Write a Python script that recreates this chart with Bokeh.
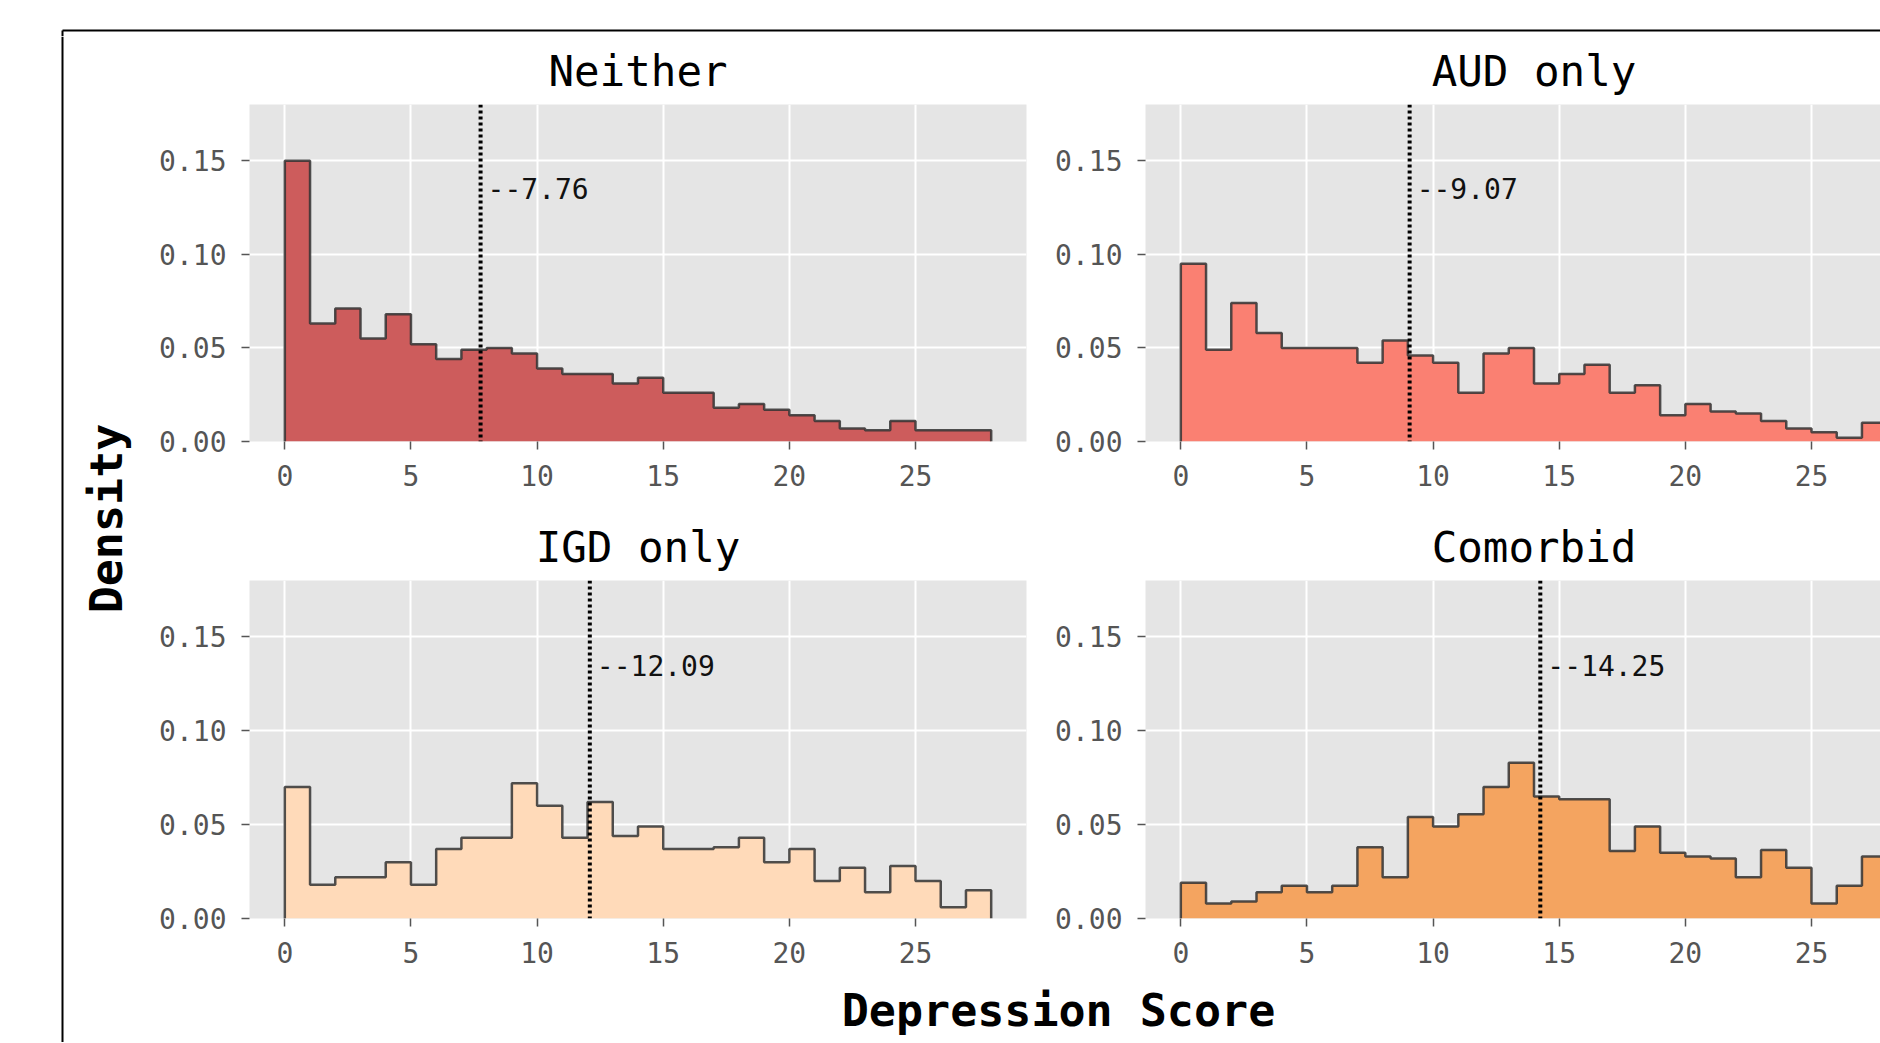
import numpy as np
from bokeh.plotting import figure
from bokeh.layouts import row, column
from bokeh.models import Range1d, FixedTicker, PrintfTickFormatter, Span, Label
from bokeh.embed import file_html
from bokeh.resources import INLINE

# ---------------- data ----------------
bin_edges = list(range(0, 29))          # 28 bins of width 1, 0..28
groups = ["Neither", "AUD only", "IGD only", "Comorbid"]
neither = [0.150, 0.063, 0.071, 0.055, 0.068, 0.052, 0.044, 0.049, 0.050, 0.047,
           0.039, 0.036, 0.036, 0.031, 0.034, 0.026, 0.026, 0.018, 0.020, 0.017,
           0.014, 0.011, 0.007, 0.006, 0.011, 0.006, 0.006, 0.006]
aud_only = [0.095, 0.049, 0.074, 0.058, 0.050, 0.050, 0.050, 0.042, 0.054, 0.046,
            0.042, 0.026, 0.047, 0.050, 0.031, 0.036, 0.041, 0.026, 0.030, 0.014,
            0.020, 0.016, 0.015, 0.011, 0.007, 0.005, 0.002, 0.010]
igd_only = [0.070, 0.018, 0.022, 0.022, 0.030, 0.018, 0.037, 0.043, 0.043, 0.072,
            0.060, 0.043, 0.062, 0.044, 0.049, 0.037, 0.037, 0.038, 0.043, 0.030,
            0.037, 0.020, 0.027, 0.014, 0.028, 0.020, 0.006, 0.015]
comorbid = [0.019, 0.008, 0.009, 0.014, 0.0175, 0.014, 0.0175, 0.038, 0.022, 0.054,
            0.049, 0.0555, 0.070, 0.083, 0.065, 0.0635, 0.0635, 0.036, 0.049, 0.035,
            0.033, 0.032, 0.022, 0.0365, 0.027, 0.008, 0.0175, 0.033]
group_means = [7.76, 9.07, 12.09, 14.25]
fill_colors = ["#CD5C5C", "#FA8072", "#FFDAB9", "#F4A460"]
x_ticks = [0, 5, 10, 15, 20, 25]
y_ticks = [0.00, 0.05, 0.10, 0.15]
y_top = 0.18
x_label = "Depression Score"
y_label = "Density"

MONO = "DejaVu Sans Mono"
GRAY = "#555555"
TITLE_FS = 42.5

edges = np.array(bin_edges, dtype=float)
span_x = edges[-1] - edges[0]
x_lo = edges[0] - 0.05 * span_x
x_hi = edges[-1] + 0.05 * span_x

# layout sizes (pixels)
L_W, T_H, B_H = 140, 36, 67
LEFT_W, RIGHT_W = 896, 844
MB_LEFT, MB_RIGHT_L = 109, 10
TOP_H, BOT_H = 467, 472
FULL_FRAME_W = LEFT_W - MB_LEFT - MB_RIGHT_L
VIS_FRAME_W = RIGHT_W - MB_LEFT
x_hi_right = x_lo + (x_hi - x_lo) * VIS_FRAME_W / FULL_FRAME_W


def panel(name, heights, mean, color, width, height, mb_top, mb_bottom, mb_right, xr_hi, clipped):
    p = figure(width=width, height=height, toolbar_location=None, output_backend="svg",
               x_range=Range1d(x_lo, xr_hi), y_range=Range1d(0, y_top),
               min_border_left=MB_LEFT, min_border_right=mb_right,
               min_border_top=mb_top, min_border_bottom=mb_bottom)
    p.background_fill_color = "#E5E5E5"
    p.border_fill_color = "white"
    p.outline_line_color = None
    p.title.text = name
    if clipped:
        # centre the title over the full (partly cut off) panel width
        p.title.align = "left"
        p.title.offset = FULL_FRAME_W / 2 - len(name) * 0.602 * TITLE_FS / 2
    else:
        p.title.align = "center"
    p.title.text_font = MONO
    p.title.text_font_size = f"{TITLE_FS}px"
    p.title.text_font_style = "normal"
    p.title.text_color = "black"
    p.title.standoff = 17

    h = np.array(heights, dtype=float)
    xs = np.repeat(edges, 2)
    ys = np.concatenate([[0.0], np.repeat(h, 2), [0.0]])
    p.patch(xs, ys, fill_color=color, line_color=None)
    p.line(xs, ys, line_color="#333333", line_alpha=0.85, line_width=2.5)

    p.add_layout(Span(location=mean, dimension="height", line_color="black",
                      line_dash="3 3", line_width=4))
    p.add_layout(Label(x=mean, y=0.135, x_offset=7, text=f"--{mean:.2f}",
                       text_font=MONO, text_font_size="28px", text_color="#111111",
                       text_baseline="middle", text_align="left"))

    p.xaxis.ticker = FixedTicker(ticks=x_ticks)
    p.yaxis.ticker = FixedTicker(ticks=y_ticks)
    p.yaxis.formatter = PrintfTickFormatter(format="%.2f")
    for ax in (p.xaxis, p.yaxis):
        ax.axis_line_color = None
        ax.major_tick_line_color = GRAY
        ax.major_tick_line_width = 1.5
        ax.major_tick_out = 8
        ax.major_tick_in = 0
        ax.minor_tick_line_color = None
        ax.major_label_text_font = MONO
        ax.major_label_text_font_size = "28px"
        ax.major_label_text_color = GRAY
    p.yaxis.major_label_standoff = 15
    p.xaxis.major_label_standoff = 15
    p.grid.grid_line_color = "white"
    p.grid.grid_line_width = 2
    return p


series = [neither, aud_only, igd_only, comorbid]
p1 = panel(groups[0], series[0], group_means[0], fill_colors[0], LEFT_W, TOP_H, 67, 62, MB_RIGHT_L, x_hi, False)
p2 = panel(groups[1], series[1], group_means[1], fill_colors[1], RIGHT_W, TOP_H, 67, 62, 0, x_hi_right, True)
p3 = panel(groups[2], series[2], group_means[2], fill_colors[2], LEFT_W, BOT_H, 77, 57, MB_RIGHT_L, x_hi, False)
p4 = panel(groups[3], series[3], group_means[3], fill_colors[3], RIGHT_W, BOT_H, 77, 57, 0, x_hi_right, True)


def blank(w, h):
    f = figure(width=w, height=h, toolbar_location=None, output_backend="svg",
               x_range=Range1d(0, w), y_range=Range1d(h, 0), min_border=0,
               x_axis_type=None, y_axis_type=None)
    f.grid.visible = False
    f.outline_line_color = None
    f.background_fill_color = "white"
    f.border_fill_color = "white"
    return f


grid_w = LEFT_W + RIGHT_W
full_w = L_W + grid_w
body_h = TOP_H + BOT_H + B_H
BORDER_X, BORDER_Y = 62, 30

top_strip = blank(full_w, T_H)
top_strip.line([BORDER_X, full_w], [BORDER_Y, BORDER_Y], line_color="black", line_width=2)
top_strip.line([BORDER_X, BORDER_X], [BORDER_Y, T_H], line_color="black", line_width=2)

left_strip = blank(L_W, body_h)
left_strip.line([BORDER_X, BORDER_X], [0, body_h], line_color="black", line_width=2)
left_strip.add_layout(Label(x=106, y=518 - T_H, text=y_label, angle=np.pi / 2,
                            text_font=MONO, text_font_size="45px", text_font_style="bold",
                            text_color="black", text_align="center", text_baseline="middle"))

bottom_strip = blank(grid_w, B_H)
bottom_strip.add_layout(Label(x=918, y=35, text=x_label,
                              text_font=MONO, text_font_size="45px", text_font_style="bold",
                              text_color="black", text_align="center", text_baseline="middle"))

layout = column(top_strip,
                row(left_strip, column(row(p1, p2), row(p3, p4), bottom_strip)))

open("out.html", "w").write(file_html(layout, INLINE))
